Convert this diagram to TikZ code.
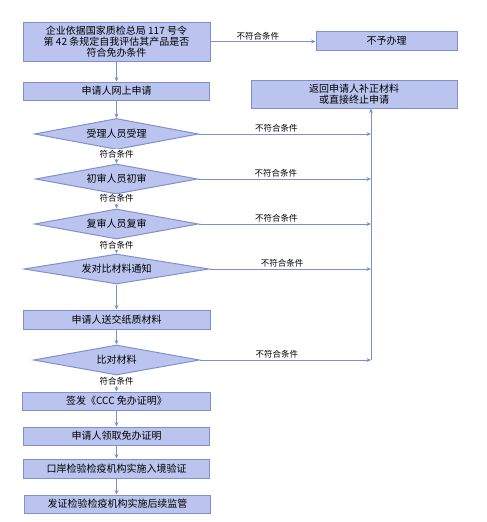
\documentclass[tikz,border=0pt]{standalone}
\usepackage{fontspec}
\setmainfont{Noto Sans CJK SC}
\usetikzlibrary{arrows.meta,shapes.geometric}
\definecolor{boxfill}{RGB}{186,196,238}
\definecolor{boxline}{RGB}{128,144,206}
\definecolor{flowline}{RGB}{122,146,204}
\tikzset{
  stepbox/.style={draw=boxline,fill=boxfill,line width=1pt,inner sep=1pt,align=center,
    font=\fontsize{10}{11}\selectfont},
  check/.style={diamond,aspect=6,draw=boxline,fill=boxfill,line width=1pt,inner sep=0pt,
    font=\fontsize{10}{11}\selectfont},
  flow/.style={draw=flowline,line width=0.8pt,-{Stealth[length=4.5pt,width=4pt]}},
  cond/.style={font=\fontsize{8.5}{9}\selectfont,inner sep=1pt}
}
\begin{document}
\begin{tikzpicture}[x=1pt,y=-1pt]
\useasboundingbox (0,0) rectangle (487,522);
% main column
\node[stepbox,minimum width=187,minimum height=39] (rule) at (116.5,41.5)
  {企业依据国家质检总局 117 号令\\第 42 条规定自我评估其产品是否\\符合免办条件};
\node[stepbox,minimum width=141,minimum height=19] (refuse) at (386.5,40.5) {不予办理};
\node[stepbox,minimum width=186,minimum height=18] (online) at (116.5,91) {申请人网上申请};
\node[stepbox,minimum width=206,minimum height=28] (back) at (354,94)
  {返回申请人补正材料\\或直接终止申请};
\node[check,minimum width=164,minimum height=31] (accept) at (116.5,134) {受理人员受理};
\node[check,minimum width=162,minimum height=30] (first) at (116.5,179) {初审人员初审};
\node[check,minimum width=164,minimum height=30] (second) at (116.5,224) {复审人员复审};
\node[check,minimum width=185,minimum height=30] (notice) at (116.5,269) {发对比材料通知};
\node[stepbox,minimum width=187,minimum height=19] (paper) at (116.5,319.5) {申请人送交纸质材料};
\node[check,minimum width=166,minimum height=30] (compare) at (116.5,360) {比对材料};
\node[stepbox,minimum width=188,minimum height=18] (issue) at (116.5,401) {签发《CCC 免办证明》};
\node[stepbox,minimum width=186,minimum height=18] (fetch) at (116.5,436) {申请人领取免办证明};
\node[stepbox,minimum width=186,minimum height=19] (entry) at (116.5,468.5) {口岸检验检疫机构实施入境验证};
\node[stepbox,minimum width=186,minimum height=18] (follow) at (117.5,504) {发证检验检疫机构实施后续监管};
\coordinate (rail) at (371,360);
% downward flow
\draw[flow] (rule) -- (online);
\draw[flow] (online) -- (accept);
\draw[flow] (accept) -- node[cond,fill=white,pos=0.3]{符合条件} (first);
\draw[flow] (first) -- node[cond,fill=white,pos=0.3]{符合条件} (second);
\draw[flow] (second) -- node[cond,fill=white,pos=0.4]{符合条件} (notice);
\draw[flow] (notice) -- (paper);
\draw[flow] (paper) -- (compare);
\draw[flow] (compare) -- node[cond,fill=white,pos=0.35]{符合条件} (issue);
\draw[flow] (issue) -- (fetch);
\draw[flow] (fetch) -- (entry);
\draw[flow] (entry.south) -- (entry.south |- follow.north);
% rejections to the right
\draw[flow] (rule.east) -- node[cond,above,pos=0.45]{不符合条件} (refuse.west |- rule.east);
\foreach \chk in {accept,first,second,notice,compare}
  \draw[flow] (\chk.east) -- node[cond,above,pos=0.45]{不符合条件} (\chk.east -| rail);
\draw[flow] (rail) -- (rail |- back.south);
\end{tikzpicture}
\end{document}
